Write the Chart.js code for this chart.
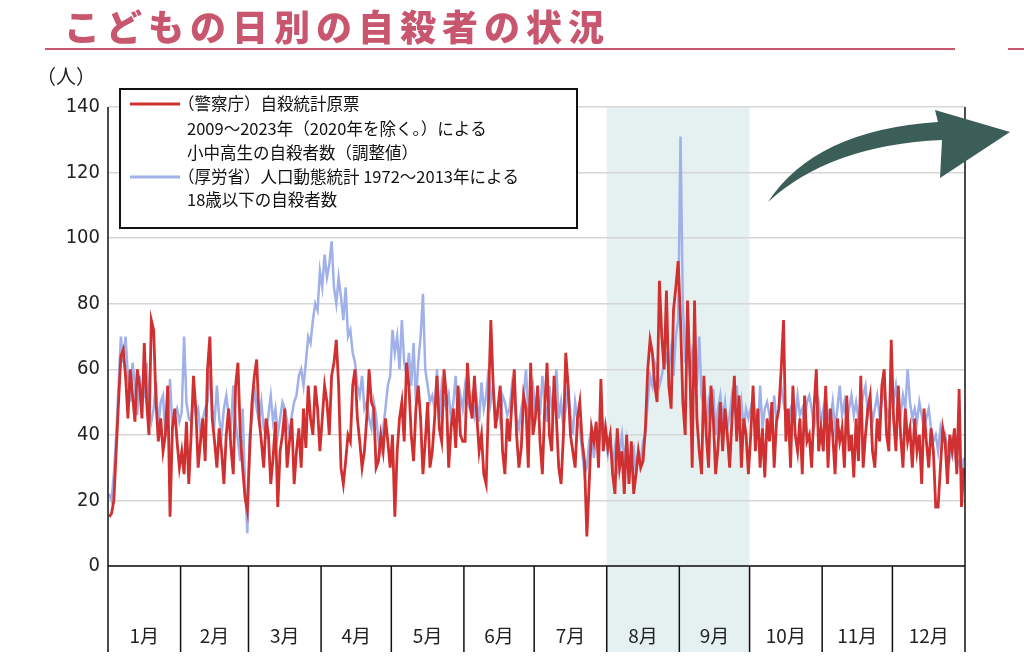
<!DOCTYPE html>
<html>
<head>
<meta charset="utf-8">
<script src="https://cdn.jsdelivr.net/npm/chart.js@4.4.0/dist/chart.umd.min.js"></script>
<style>
  html, body { margin: 0; padding: 0; background: #fff; }
  #wrap { width: 1024px; height: 664px; position: relative; }
</style>
</head>
<body>
<div id="wrap"><canvas id="c" width="1024" height="664"></canvas></div>
<script>
// Month labels and day counts
const months = ["1月", "2月", "3月", "4月", "5月", "6月", "7月", "8月", "9月", "10月", "11月", "12月"];
const monthDays = [31, 29, 31, 30, 31, 30, 31, 31, 30, 31, 30, 31];
const yTicks = [0, 20, 40, 60, 80, 100, 120, 140];

// (警察庁) daily values by month
const police = [
  [15,16,20,35,50,64,66,58,45,60,52,44,60,55,45,68,50,40,75,72,50,38,45,35,40,55,15,42,48,38,30],
  [35,28,44,25,40,58,48,30,38,45,32,60,70,45,38,30,42,35,25,40,48,36,28,55,62,40,30,21,17],
  [35,50,58,63,45,38,30,45,40,25,33,44,18,35,40,48,30,38,45,25,35,42,30,48,36,55,45,40,55,48,35],
  [45,55,50,40,58,62,69,55,30,25,32,40,38,55,60,45,38,30,35,45,60,50,48,30,32,40,35,45,38,30],
  [40,15,35,45,50,38,62,55,40,32,48,55,45,28,38,50,30,35,45,58,42,38,60,52,30,42,48,36,55,40,38],
  [38,62,50,45,58,46,35,40,28,25,50,75,55,42,48,55,35,28,45,38,50,60,40,30,36,52,48,30,62,40],
  [45,55,38,28,48,62,40,35,58,45,30,25,40,65,55,40,35,30,45,50,38,32,9,25,42,38,44,30,57,35,42],
  [36,40,28,22,42,30,35,22,40,25,38,22,28,35,30,32,42,60,69,65,55,50,87,70,60,84,55,48,78,85,93],
  [75,50,40,81,60,30,81,45,35,28,58,40,30,55,45,28,36,50,35,48,40,30,45,58,38,52,30,45,40,28],
  [40,55,35,48,30,42,27,45,38,50,30,44,48,60,75,38,48,30,55,40,35,45,28,52,38,40,30,48,60,35,42],
  [35,55,30,48,40,28,45,38,42,30,52,35,40,27,45,32,58,30,40,48,52,35,30,45,38,55,60,40,35,69],
  [45,35,55,40,30,48,38,42,30,45,35,40,25,48,38,30,42,35,18,18,30,42,38,25,40,35,42,28,54,18,30]
];

// (厚労省) daily values by month
const mhlw = [
  [22,20,28,40,55,70,62,70,58,50,62,55,46,58,50,52,62,48,44,48,56,42,50,52,40,44,57,42,46,48,44],
  [47,70,50,45,44,52,46,48,40,45,48,50,60,48,44,55,45,40,48,52,46,42,55,44,38,32,48,25,10],
  [40,45,55,48,44,50,42,40,46,52,44,48,40,45,50,48,44,40,46,50,52,58,60,55,62,70,68,75,80,78,90],
  [85,95,88,92,99,85,80,88,82,75,85,70,72,65,62,55,52,58,48,50,45,42,50,46,38,35,42,48,55,58],
  [72,65,70,60,75,62,58,65,55,68,50,62,70,83,60,55,50,52,48,60,45,55,50,48,52,45,50,58,44,52,48],
  [55,50,48,52,46,50,44,56,48,52,60,50,55,45,48,44,52,50,46,48,55,50,45,42,48,52,60,46,50,55],
  [48,52,46,58,50,44,55,48,52,60,45,50,42,48,55,46,40,50,45,42,35,28,30,38,42,33,40,36,42,44,40],
  [34,38,30,36,28,35,40,32,38,30,34,36,28,35,32,38,40,50,58,55,62,60,55,58,62,64,60,66,58,70,75],
  [131,80,62,68,58,65,60,55,70,52,48,42,50,46,54,40,48,52,45,50,42,46,52,48,55,44,50,42,48,45],
  [48,52,45,40,55,42,48,50,46,42,52,44,48,55,50,46,42,48,50,45,52,46,48,44,50,52,48,42,46,50,44],
  [48,52,46,44,50,42,48,55,46,50,44,48,52,46,50,45,48,52,55,46,50,44,48,52,46,50,55,48,45,52],
  [50,55,48,46,52,48,60,50,45,48,44,50,46,42,45,48,42,38,40,35,42,38,40,36,33,38,35,30,32,28,33]
];

const toPoints = (rows) => rows.flat().map((v, i) => ({ x: i + 0.5, y: v }));
const monthStart = [0];
monthDays.forEach((d, i) => monthStart.push(monthStart[i] + d));
const totalDays = monthStart[12];

const PINK = "#c9566f";
const LABEL_BOTTOM = 652;

const decor = {
  id: "decor",
  beforeDraw(chart) {
    const { ctx, chartArea: a, scales: { x } } = chart;
    ctx.save();
    ctx.fillStyle = "#fff";
    ctx.fillRect(0, 0, chart.width, chart.height);
    // Aug-Sep shading
    const x0 = x.getPixelForValue(monthStart[7]), x1 = x.getPixelForValue(monthStart[9]);
    ctx.fillStyle = "#e5f1f1";
    ctx.fillRect(x0, a.top, x1 - x0, LABEL_BOTTOM - a.top);
    ctx.restore();
  },
  afterDraw(chart) {
    const { ctx, chartArea: a, scales: { x } } = chart;
    ctx.save();
    // title
    ctx.fillStyle = PINK;
    ctx.font = "900 36px 'Noto Sans CJK JP'";
    ctx.letterSpacing = "6px";
    ctx.textBaseline = "middle";
    ctx.fillText("こどもの日別の自殺者の状況", 64, 27);
    ctx.letterSpacing = "0px";
    ctx.strokeStyle = PINK;
    ctx.lineWidth = 2;
    ctx.beginPath(); ctx.moveTo(45, 49); ctx.lineTo(955, 49); ctx.stroke();
    ctx.beginPath(); ctx.moveTo(1008, 49); ctx.lineTo(1024, 49); ctx.stroke();
    // unit
    ctx.fillStyle = "#222";
    ctx.font = "20px 'Noto Sans CJK JP'";
    ctx.fillText("（人）", 36, 76);
    // borders
    ctx.strokeStyle = "#111";
    ctx.lineWidth = 1.5;
    ctx.beginPath();
    ctx.moveTo(a.left, a.top); ctx.lineTo(a.left, LABEL_BOTTOM);
    ctx.moveTo(a.right, a.top); ctx.lineTo(a.right, LABEL_BOTTOM);
    ctx.moveTo(a.left, a.bottom); ctx.lineTo(a.right, a.bottom);
    for (let i = 1; i < 12; i++) {
      const px = x.getPixelForValue(monthStart[i]);
      ctx.moveTo(px, a.bottom); ctx.lineTo(px, LABEL_BOTTOM);
    }
    ctx.stroke();
    // month labels
    ctx.fillStyle = "#222";
    ctx.font = "19px 'Noto Sans CJK JP'";
    ctx.textAlign = "center";
    months.forEach((m, i) => {
      const px = (x.getPixelForValue(monthStart[i]) + x.getPixelForValue(monthStart[i + 1])) / 2;
      ctx.fillText(m, px, 636);
    });
    // legend
    ctx.textAlign = "left";
    ctx.fillStyle = "#fff";
    ctx.fillRect(120, 89, 457, 139);
    ctx.strokeStyle = "#111";
    ctx.lineWidth = 2;
    ctx.strokeRect(120, 89, 457, 139);
    ctx.lineWidth = 3;
    ctx.strokeStyle = "#d13030";
    ctx.beginPath(); ctx.moveTo(130, 104); ctx.lineTo(180, 104); ctx.stroke();
    ctx.strokeStyle = "#9fb1e8";
    ctx.beginPath(); ctx.moveTo(130, 177); ctx.lineTo(180, 177); ctx.stroke();
    ctx.fillStyle = "#111";
    ctx.font = "16.5px 'Noto Sans CJK JP'";
    ctx.fillText("（警察庁）自殺統計原票", 178, 104);
    ctx.fillText("2009～2023年（2020年を除く。）による", 187, 129);
    ctx.fillText("小中高生の自殺者数（調整値）", 187, 153);
    ctx.fillText("（厚労省）人口動態統計 1972～2013年による", 178, 177);
    ctx.fillText("18歳以下の自殺者数", 187, 200);
    // arrow
    ctx.fillStyle = "#3b5e58";
    ctx.beginPath();
    ctx.moveTo(768, 202);
    ctx.quadraticCurveTo(830, 145, 942, 140);
    ctx.lineTo(940, 178);
    ctx.lineTo(1010, 132);
    ctx.lineTo(935, 110);
    ctx.lineTo(938, 122);
    ctx.quadraticCurveTo(815, 130, 768, 202);
    ctx.fill();
    ctx.restore();
  }
};

new Chart(document.getElementById("c"), {
  type: "line",
  data: {
    datasets: [
      { label: "mhlw", data: toPoints(mhlw), borderColor: "#9fb1e8", borderWidth: 2.5, pointRadius: 0, tension: 0, order: 2 },
      { label: "police", data: toPoints(police), borderColor: "#d13030", borderWidth: 2.8, pointRadius: 0, tension: 0, order: 1 }
    ]
  },
  options: {
    responsive: false,
    animation: false,
    layout: { padding: { top: 107, right: 59, bottom: 98, left: 0 } },
    plugins: { legend: { display: false }, tooltip: { enabled: false } },
    scales: {
      x: {
        type: "linear", min: 0, max: totalDays,
        ticks: { display: false }, grid: { display: false }, border: { display: false },
        afterFit: (s) => { s.height = 0; }
      },
      y: {
        min: 0, max: 140,
        afterBuildTicks: (s) => { s.ticks = yTicks.map((v) => ({ value: v })); },
        afterFit: (s) => { s.width = 108; },
        ticks: { color: "#222", font: { size: 20, family: "'DejaVu Sans Condensed', sans-serif" }, padding: 8 },
        grid: { color: "#d6d6d6", lineWidth: 1.5, drawTicks: false },
        border: { display: false }
      }
    }
  },
  plugins: [decor]
});
</script>
</body>
</html>
